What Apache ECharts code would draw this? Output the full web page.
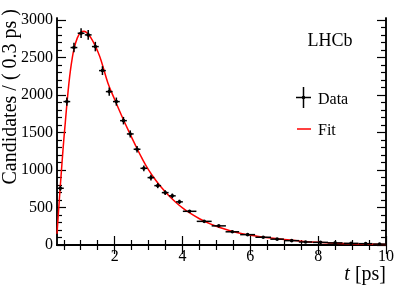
<!DOCTYPE html>
<html><head><meta charset="utf-8">
<script src="https://cdn.jsdelivr.net/npm/echarts@6/dist/echarts.min.js"></script>
<style>html,body{margin:0;padding:0;background:#fff}#c{width:407px;height:292px}</style>
</head><body><div id="c"></div>
<script>
// Data points: bin centres, half widths (ps), candidates per 0.3 ps, errors
const tCenters = [0.40,0.59,0.80,1.01,1.22,1.43,1.64,1.84,2.05,2.26,2.46,2.66,2.86,3.07,3.27,3.49,3.70,3.91,4.21,4.64,5.07,5.47,5.92,6.38,6.79,7.22,7.63,8.07,8.50,8.97,9.40,9.81];
const halfWidths = [0.1,0.1,0.1,0.1,0.1,0.1,0.1,0.1,0.1,0.1,0.1,0.1,0.1,0.1,0.1,0.1,0.1,0.1,0.2,0.22,0.21,0.2,0.22,0.23,0.2,0.22,0.2,0.22,0.22,0.22,0.2,0.19];
const counts = [756,1911,2631,2822,2800,2644,2324,2044,1911,1657,1480,1276,1022,898,791,698,655,575,449,315,255,176,138,103,78,58,40,35,28,22,18,12];
const errors = [34,54,63,65,65,63,59,55,54,50,47,44,39,37,34,32,31,29,18,15,13,11,10,9,7,6,5,5,4,4,4,3];
// Fit curve
const fitT = [0.3,0.35,0.4,0.45,0.5,0.55,0.6,0.65,0.7,0.75,0.8,0.9,1.0,1.1,1.2,1.3,1.4,1.5,1.6,1.8,2.0,2.2,2.4,2.6,2.8,3.0,3.2,3.4,3.6,3.8,4.0,4.2,4.5,4.8,5.1,5.4,5.8,6.2,6.6,7.0,7.5,8.0,8.5,9.0,9.5,10.0];
const fitY = [150,480,800,1110,1400,1660,1920,2150,2340,2490,2610,2760,2835,2850,2820,2760,2680,2580,2460,2160,1940,1730,1530,1340,1160,1000,870,755,655,570,495,430,350,285,233,190,148,118,93,72,51,35,24,17,12,8];
// Ticks
const xMajor = [2,4,6,8,10];
const xMinor = [0.5,1,1.5,2.5,3,3.5,4.5,5,5.5,6.5,7,7.5,8.5,9,9.5];
const yMajor = [0,500,1000,1500,2000,2500,3000];
const yMinor = [100,200,300,400,600,700,800,900,1100,1200,1300,1400,1600,1700,1800,1900,2100,2200,2300,2400,2600,2700,2800,2900];

const FONT = 'Liberation Serif';
const XMIN = 0.3, XMAX = 10, YMIN = 0, YMAX = 3025;
const axisLine = {show:true, lineStyle:{color:'#000', width:1.5}};
const plain = v => String(v);

function xAxisDef(pos, vals, len, labels) {
  return {type:'value', min:XMIN, max:XMAX, position:pos, splitLine:{show:false},
    axisLine: axisLine,
    axisTick:{show:true, inside:true, length:len, customValues:vals, lineStyle:{color:'#000', width:1.2}},
    axisLabel: labels ? {show:true, customValues:vals, formatter:plain, color:'#000', fontFamily:FONT, fontSize:16, margin:4} : {show:false}};
}
function yAxisDef(pos, vals, len, labels) {
  return {type:'value', min:YMIN, max:YMAX, position:pos, splitLine:{show:false},
    axisLine: axisLine,
    axisTick:{show:true, inside:true, length:len, customValues:vals, lineStyle:{color:'#000', width:1.2}},
    axisLabel: labels ? {show:true, customValues:vals, formatter:plain, color:'#000', fontFamily:FONT, fontSize:16, margin:4} : {show:false}};
}

const chart = echarts.init(document.getElementById('c'), null, {renderer:'canvas'});
chart.setOption({
  animation:false,
  backgroundColor:'#fff',
  grid:{left:57, right:21, top:18, bottom:47, containLabel:false},
  xAxis:[xAxisDef('bottom', xMajor, 9, true), xAxisDef('bottom', xMinor, 5, false),
         xAxisDef('top', xMajor, 9, false), xAxisDef('top', xMinor, 5, false)],
  yAxis:[yAxisDef('left', yMajor, 9, true), yAxisDef('left', yMinor, 5, false),
         yAxisDef('right', yMajor, 9, false), yAxisDef('right', yMinor, 5, false)],
  series:[
    {type:'line', xAxisIndex:0, yAxisIndex:0, data: fitT.map((t,i)=>[t, fitY[i]]),
     smooth:0.4, showSymbol:false, lineStyle:{color:'#ff0000', width:1.5}, clip:true, z:2},
    {type:'custom', xAxisIndex:0, yAxisIndex:0, z:3, clip:true,
     data: tCenters.map((t,i)=>[t, counts[i], halfWidths[i], errors[i]]),
     renderItem:function(params, api){
       const t=api.value(0), y=api.value(1), hw=api.value(2), e=api.value(3);
       const c = api.coord([t,y]);
       const l = api.coord([t-hw,y]), r = api.coord([t+hw,y]);
       const lo = api.coord([t,y-e]), hi = api.coord([t,y+e]);
       const st = {stroke:'#000', lineWidth:1.5};
       return {type:'group', children:[
         {type:'line', shape:{x1:l[0],y1:l[1],x2:r[0],y2:r[1]}, style:st},
         {type:'line', shape:{x1:lo[0],y1:lo[1],x2:hi[0],y2:hi[1]}, style:st},
         {type:'circle', shape:{cx:c[0],cy:c[1],r:1.8}, style:{fill:'#000'}}
       ]};
     }}
  ],
  graphic:[
    {type:'text', x:11, y:9, rotation:Math.PI/2,
     style:{text:'Candidates / ( 0.3 ps )', fontFamily:FONT, fontSize:20, fill:'#000', align:'right', verticalAlign:'middle'}},
    {type:'text', x:386, y:275,
     style:{text:'{i|t} [ps]', fontFamily:FONT, fontSize:20, fill:'#000', align:'right', verticalAlign:'middle',
       rich:{i:{fontStyle:'italic', fontFamily:FONT, fontSize:20, fill:'#000'}}}},
    {type:'text', x:330, y:41,
     style:{text:'LHCb', fontFamily:FONT, fontSize:18, fill:'#000', align:'center', verticalAlign:'middle'}},
    {type:'line', shape:{x1:296,y1:97.5,x2:311,y2:97.5}, style:{stroke:'#000', lineWidth:1.5}},
    {type:'line', shape:{x1:303.5,y1:87,x2:303.5,y2:108}, style:{stroke:'#000', lineWidth:1.5}},
    {type:'circle', shape:{cx:303.5, cy:97.5, r:1.8}, style:{fill:'#000'}},
    {type:'text', x:318, y:100, style:{text:'Data', fontFamily:FONT, fontSize:16, fill:'#000', align:'left', verticalAlign:'middle'}},
    {type:'line', shape:{x1:297,y1:129,x2:311,y2:129}, style:{stroke:'#ff0000', lineWidth:1.5}},
    {type:'text', x:318, y:131, style:{text:'Fit', fontFamily:FONT, fontSize:16, fill:'#000', align:'left', verticalAlign:'middle'}}
  ]
});
</script></body></html>
